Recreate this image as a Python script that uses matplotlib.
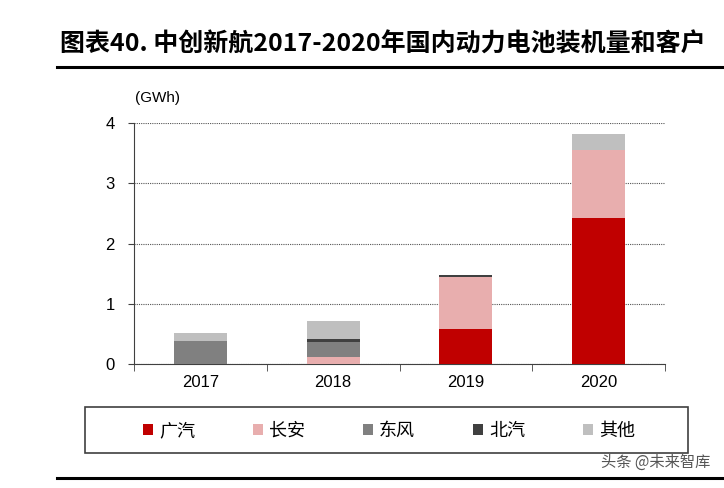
import matplotlib.pyplot as plt
from matplotlib.lines import Line2D
from matplotlib.patches import Patch, Rectangle
import numpy as np

plt.rcParams['font.family'] = ['Liberation Sans', 'Noto Sans CJK SC', 'DejaVu Sans']

# 数据 (GWh)
years = ['2017', '2018', '2019', '2020']
guangqi = [0.0, 0.0, 0.58, 2.43]
changan = [0.0, 0.12, 0.87, 1.13]
dongfeng = [0.39, 0.25, 0.0, 0.0]
beiqi = [0.0, 0.04, 0.02, 0.0]
qita = [0.12, 0.30, 0.01, 0.25]

series = [('广汽', guangqi, '#C00000'),
          ('长安', changan, '#E8AEAE'),
          ('东风', dongfeng, '#808080'),
          ('北汽', beiqi, '#404040'),
          ('其他', qita, '#BFBFBF')]

W, H = 724, 488
fig = plt.figure(figsize=(W / 100, H / 100), dpi=100)
ax = fig.add_axes([134 / W, 1 - 364 / H, (665 - 134) / W, (364 - 123) / H])

x = np.arange(len(years))
bottom = np.zeros(len(years))
for name, vals, col in series:
    ax.bar(x, vals, width=0.4, bottom=bottom, color=col, zorder=3)
    bottom += np.array(vals)

ax.set_xlim(-0.5, 3.5)
ax.set_ylim(0, 4)
ax.set_yticks([0, 1, 2, 3, 4])
ax.set_xticks(x)
ax.set_xticklabels(years)
ax.set_xticks(np.arange(-0.5, 4, 1), minor=True)
ax.tick_params(axis='x', which='major', length=0, labelsize=12, pad=8)
ax.tick_params(axis='x', which='minor', length=5, color='#404040', direction='out')
ax.tick_params(axis='y', length=4, color='#404040', labelsize=12, pad=10)
ax.grid(axis='y', linestyle=(0, (1, 1)), color='#555555', linewidth=0.8, zorder=0)
for s in ['top', 'right']:
    ax.spines[s].set_visible(False)
ax.spines['left'].set_color('#404040')
ax.spines['bottom'].set_color('#404040')

fig.text(135 / W, 1 - 98 / H, '(GWh)', fontsize=11, va='center', ha='left')

# 标题
fig.text(60 / W, 1 - 44 / H, '图表40. 中创新航2017-2020年国内动力电池装机量和客户',
         fontsize=18, fontweight='bold', family=['Noto Sans CJK SC'], va='center', ha='left')
fig.add_artist(Line2D([57 / W, 1], [1 - 67 / H, 1 - 67 / H], color='black', linewidth=2.2))
fig.add_artist(Line2D([57 / W, 1], [1 - 478 / H, 1 - 478 / H], color='black', linewidth=2.2))

# 图例
fig.add_artist(Rectangle((85 / W, 1 - 453 / H), (688 - 85) / W, (453 - 407) / H,
                         transform=fig.transFigure, facecolor='none',
                         edgecolor='#404040', linewidth=1.2))
handles = [Patch(facecolor=c, edgecolor='none') for _, _, c in series]
labels = [n for n, _, _ in series]
fig.legend(handles, labels, ncol=5, loc='center',
           bbox_to_anchor=(389 / W, 1 - 431 / H),
           frameon=False, handlelength=0.55, handleheight=0.55,
           handletextpad=0.35, columnspacing=3.2, borderpad=0,
           prop={'family': ['Noto Sans CJK SC'], 'size': 13})

fig.text(710 / W, 1 - 462 / H, '头条 @未来智库', fontsize=11, color='#555555',
         family=['Noto Sans CJK SC'], ha='right', va='center')

fig.savefig('out.png', dpi=100)
